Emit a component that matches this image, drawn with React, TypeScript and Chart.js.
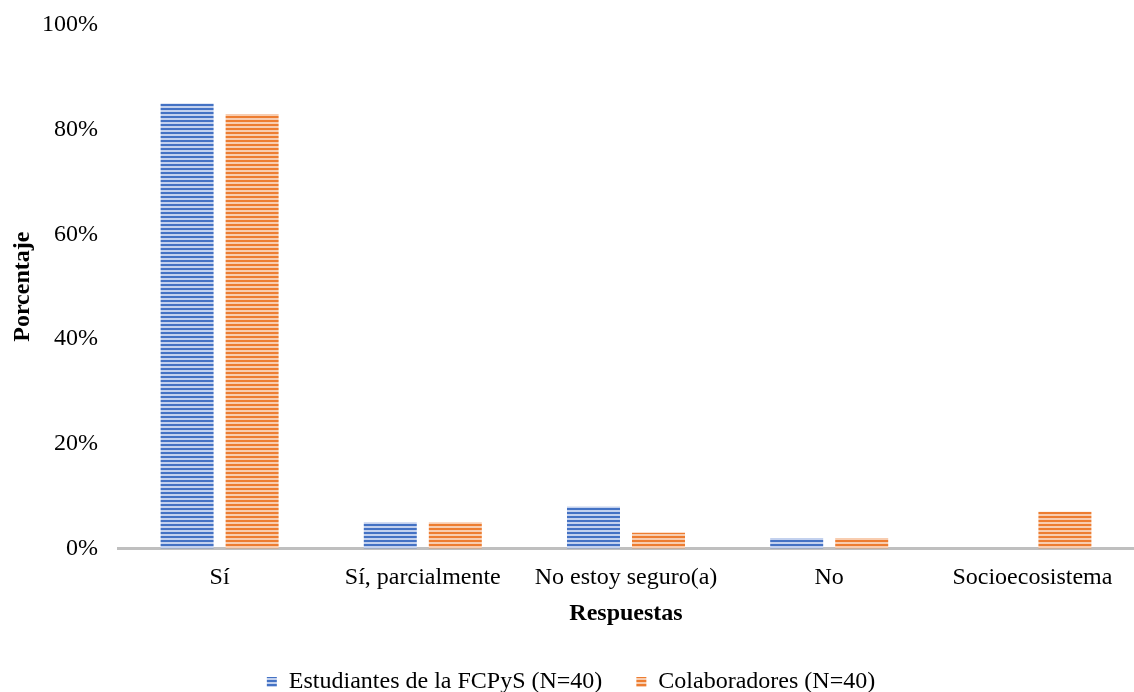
import React, { useEffect, useRef } from "react";
import { Chart, registerables } from "chart.js";

Chart.register(...registerables);

const categories = ["Sí", "Sí, parcialmente", "No estoy seguro(a)", "No", "Socioecosistema"];
const estudiantes = [85, 5, 8, 2, 0];
const colaboradores = [83, 5, 3, 2, 7];
const seriesNames = ["Estudiantes de la FCPyS (N=40)", "Colaboradores (N=40)"];
const yTicks = [0, 20, 40, 60, 80, 100];

// Horizontal-stripe fill used by the bars and legend boxes
function stripes(dark: string, light: string): CanvasPattern | string {
  const c = document.createElement("canvas");
  c.width = 4;
  c.height = 4;
  const ctx = c.getContext("2d");
  if (!ctx) return dark;
  ctx.fillStyle = light;
  ctx.fillRect(0, 0, 4, 4);
  ctx.fillStyle = dark;
  ctx.fillRect(0, 0, 4, 2);
  return ctx.createPattern(c, "repeat") || dark;
}

const W = 1134;
const H = 704;

export default function App() {
  const ref = useRef<HTMLCanvasElement>(null);

  useEffect(() => {
    document.body.style.margin = "0";
    document.body.style.overflow = "hidden";
    if (!ref.current) return;
    const blue = stripes("#4472C4", "#c3d1ee");
    const orange = stripes("#ED7D31", "#f8cdb0");
    const font = "'Liberation Serif', 'Times New Roman', serif";
    const chart = new Chart(ref.current, {
      type: "bar",
      data: {
        labels: categories,
        datasets: [
          { label: seriesNames[0], data: estudiantes, backgroundColor: blue as any, categoryPercentage: 0.64, barPercentage: 0.815 },
          { label: seriesNames[1], data: colaboradores, backgroundColor: orange as any, categoryPercentage: 0.64, barPercentage: 0.815 },
        ],
      },
      options: {
        animation: false,
        responsive: false,
        layout: { padding: { left: 8, right: 0, top: 25, bottom: 0 } },
        plugins: {
          legend: {
            position: "bottom",
            labels: {
              font: { family: font, size: 24 },
              color: "#000",
              boxWidth: 10,
              boxHeight: 10,
              padding: 34,
            },
          },
          tooltip: { enabled: false },
        },
        scales: {
          x: {
            afterFit: (axis: any) => {
              axis.height = axis.height - 14;
            },
            grid: { display: false, drawTicks: false },
            border: { color: "#bfbfbf", width: 3 },
            ticks: { font: { family: font, size: 24 }, color: "#000", padding: 15 },
            title: { display: true, text: "Respuestas", font: { family: font, size: 24, weight: "bold" }, color: "#000", padding: { top: 6, bottom: 8 } },
          },
          y: {
            min: 0,
            max: 100,
            afterBuildTicks: (axis: any) => {
              axis.ticks = yTicks.map((v) => ({ value: v }));
            },
            afterFit: (axis: any) => {
              axis.width = 110;
              axis.paddingTop = 0;
            },
            grid: { display: false, drawTicks: false },
            border: { display: false },
            ticks: { font: { family: font, size: 24 }, color: "#000", padding: 20, callback: (v: any) => v + "%" },
            title: { display: true, text: "Porcentaje", font: { family: font, size: 24, weight: "bold" }, color: "#000", padding: { top: 0, bottom: 6 } },
          },
        },
      },
    });
    return () => chart.destroy();
  }, []);

  return <canvas ref={ref} width={W} height={H} style={{ display: "block" }} />;
}
